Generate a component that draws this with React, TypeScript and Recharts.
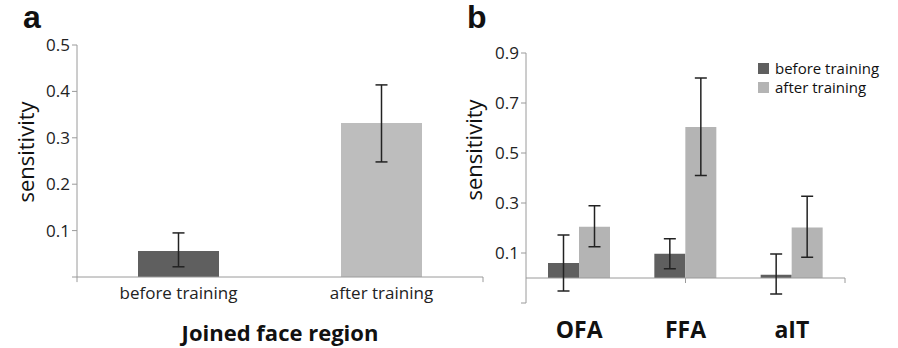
import React from "react";
import {
  BarChart,
  Bar,
  Cell,
  XAxis,
  YAxis,
  ErrorBar,
  ReferenceLine,
} from "recharts";

const FONT = "'Open Sans', 'Noto Sans', sans-serif";
const AXIS = "#9a9a9a";
const DARK = "#5f5f5f";
const LIGHT_A = "#bdbdbd";
const LIGHT_B = "#b4b4b4";

// panel a: joined face region
const categoriesA = ["before training", "after training"];
const valuesA = [0.056, 0.332];
const lowA = [0.022, 0.248];
const highA = [0.095, 0.414];
const ticksA = [0, 0.1, 0.2, 0.3, 0.4, 0.5];

// panel b: per region
const regionsB = ["OFA", "FFA", "aIT"];
const beforeB = [0.06, 0.097, 0.013];
const beforeLowB = [-0.052, 0.037, -0.064];
const beforeHighB = [0.172, 0.157, 0.096];
const afterB = [0.205, 0.604, 0.202];
const afterLowB = [0.125, 0.41, 0.083];
const afterHighB = [0.289, 0.8, 0.327];
const ticksB = [-0.1, 0.1, 0.3, 0.5, 0.7, 0.9];

const dataA = categoriesA.map((name, i) => ({
  name,
  value: valuesA[i],
  err: [valuesA[i] - lowA[i], highA[i] - valuesA[i]],
}));

const dataB = regionsB.map((name, i) => ({
  name,
  before: beforeB[i],
  after: afterB[i],
  errBefore: [beforeB[i] - beforeLowB[i], beforeHighB[i] - beforeB[i]],
  errAfter: [afterB[i] - afterLowB[i], afterHighB[i] - afterB[i]],
}));

const tickStyle = { fontFamily: FONT, fontSize: 17, fill: "#222" };

const fmt = (hide: number) => (v: number) =>
  Math.abs(v - hide) < 1e-9 ? "" : v.toFixed(1);

const overlay = (style: React.CSSProperties): React.CSSProperties => ({
  position: "absolute",
  fontFamily: FONT,
  color: "#111",
  whiteSpace: "nowrap",
  lineHeight: 1,
  ...style,
});

function LegendB() {
  const rows = [
    { label: "before training", color: DARK },
    { label: "after training", color: LIGHT_B },
  ];
  return (
    <div style={overlay({ left: 758, top: 59, fontSize: 15, lineHeight: "19px" })}>
      {rows.map((r) => (
        <div key={r.label} style={{ display: "flex", alignItems: "center" }}>
          <span
            style={{
              width: 11,
              height: 11,
              background: r.color,
              marginRight: 6,
              display: "inline-block",
            }}
          />
          {r.label}
        </div>
      ))}
    </div>
  );
}

export default function App() {
  return (
    <div
      style={{
        position: "fixed",
        left: 0,
        top: 0,
        width: 898,
        height: 348,
        background: "#fff",
        overflow: "hidden",
      }}
    >
      <div style={{ position: "absolute", left: 0, top: 0 }}>
        <BarChart
          width={490}
          height={348}
          data={dataA}
          margin={{ top: 45, right: 7, bottom: 31, left: 30 }}
        >
          <XAxis
            dataKey="name"
            height={40}
            tickLine={false}
            axisLine={{ stroke: AXIS }}
            tick={tickStyle}
            tickMargin={4}
            interval={0}
          />
          <XAxis xAxisId="edges" type="number" domain={[0, 2]} hide />
          <YAxis
            width={47}
            domain={[0, 0.5]}
            ticks={ticksA}
            tickFormatter={fmt(0)}
            tickSize={5}
            tickLine={{ stroke: AXIS }}
            axisLine={{ stroke: AXIS }}
            tick={tickStyle}
          />
          {[0, 1, 2].map((x) => (
            <ReferenceLine
              key={x}
              xAxisId="edges"
              stroke={AXIS}
              ifOverflow="visible"
              segment={[
                { x, y: 0 },
                { x, y: -0.011 },
              ]}
            />
          ))}
          <Bar dataKey="value" barSize={81} isAnimationActive={false}>
            {dataA.map((d, i) => (
              <Cell key={d.name} fill={i === 0 ? DARK : LIGHT_A} />
            ))}
            <ErrorBar dataKey="err" direction="y" width={6} stroke="#222" strokeWidth={1.5} />
          </Bar>
        </BarChart>
      </div>

      <div style={{ position: "absolute", left: 440, top: 0 }}>
        <BarChart
          width={458}
          height={348}
          data={dataB}
          barGap={0}
          margin={{ top: 53, right: 53, bottom: 5, left: 36 }}
        >
          <XAxis
            dataKey="name"
            height={40}
            tickLine={false}
            axisLine={false}
            tick={{ ...tickStyle, fontSize: 23, fontWeight: 700, fill: "#111" }}
            tickMargin={13}
            interval={0}
          />
          <XAxis xAxisId="edges" type="number" domain={[0, 3]} hide />
          <YAxis
            width={50}
            domain={[-0.1, 0.9]}
            ticks={ticksB}
            tickFormatter={fmt(-0.1)}
            tickSize={5}
            tickLine={{ stroke: AXIS }}
            axisLine={{ stroke: AXIS }}
            tick={tickStyle}
          />
          <ReferenceLine y={0} stroke={AXIS} />
          {[1, 2, 3].map((x) => (
            <ReferenceLine
              key={x}
              xAxisId="edges"
              stroke={AXIS}
              ifOverflow="visible"
              segment={[
                { x, y: 0 },
                { x, y: -0.02 },
              ]}
            />
          ))}
          <Bar dataKey="before" fill={DARK} barSize={31} isAnimationActive={false}>
            <ErrorBar dataKey="errBefore" direction="y" width={6} stroke="#222" strokeWidth={1.5} />
          </Bar>
          <Bar dataKey="after" fill={LIGHT_B} barSize={31} isAnimationActive={false}>
            <ErrorBar dataKey="errAfter" direction="y" width={6} stroke="#222" strokeWidth={1.5} />
          </Bar>
        </BarChart>
      </div>

      <div style={overlay({ left: 23, top: 1, fontSize: 32, fontWeight: 700, fontFamily: "'Liberation Sans', Arial, sans-serif" })}>
        a
      </div>
      <div style={overlay({ left: 467, top: 1, fontSize: 32, fontWeight: 700, fontFamily: "'Liberation Sans', Arial, sans-serif" })}>
        b
      </div>
      <div
        style={overlay({
          left: 25,
          top: 152,
          fontSize: 22,
          transform: "translate(-50%, -50%) rotate(-90deg)",
        })}
      >
        sensitivity
      </div>
      <div
        style={overlay({
          left: 473,
          top: 150,
          fontSize: 22,
          transform: "translate(-50%, -50%) rotate(-90deg)",
        })}
      >
        sensitivity
      </div>
      <div
        style={overlay({
          left: 280,
          top: 332,
          fontSize: 22,
          fontWeight: 700,
          transform: "translate(-50%, -50%)",
        })}
      >
        Joined face region
      </div>
      <LegendB />
    </div>
  );
}
